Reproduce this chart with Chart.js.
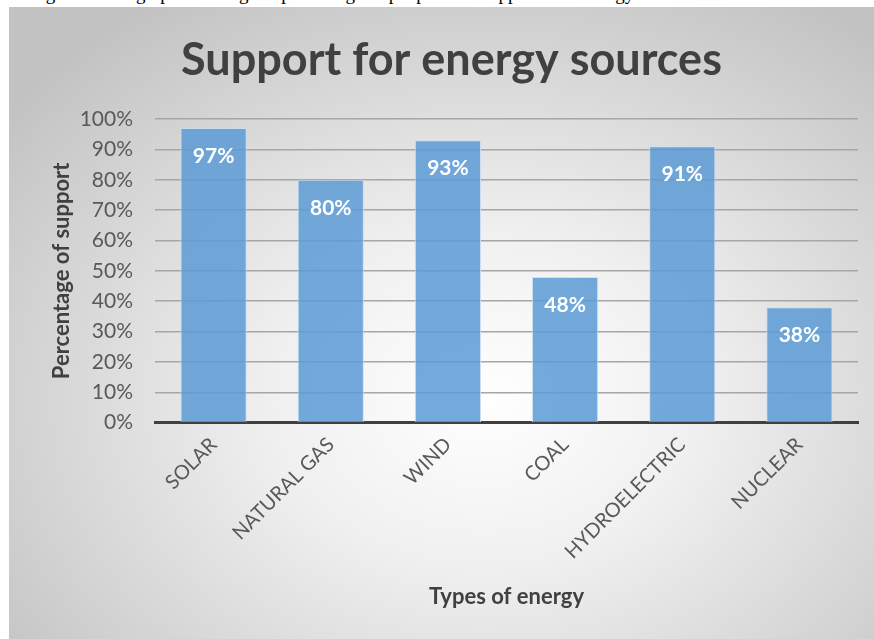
<!DOCTYPE html>
<html lang="en">
<head>
    <meta charset="UTF-8">
    <title>Support for energy sources</title>
    <script src="https://cdn.jsdelivr.net/npm/chart.js"></script>
    <style>
        body {
            margin: 0;
            background: #fff;
            width: 874px;
            height: 639px;
            overflow: hidden;
            position: relative;
        }
        #caption {
            position: absolute;
            left: 0;
            top: 0;
            width: 874px;
            height: 7px;
            overflow: hidden;
        }
        #caption span {
            position: absolute;
            left: 30px;
            top: -17px;
            font-family: "Liberation Serif", serif;
            font-size: 19px;
            white-space: nowrap;
            color: #000;
        }
        #chartBox {
            position: absolute;
            left: 9px;
            top: 7px;
            width: 865px;
            height: 632px;
            background: radial-gradient(ellipse 70% 75% at 55% 62%, #ffffff 0%, #f0f0f0 35%, #c2c2c2 100%);
        }
    </style>
</head>
<body>
    <div id="caption"><span>Figure 3: Bar graph showing the percentage of people who support each energy source</span></div>
    <div id="chartBox">
        <canvas id="energyChart"></canvas>
    </div>
    <script>
        const categories = ['SOLAR', 'NATURAL GAS', 'WIND', 'COAL', 'HYDROELECTRIC', 'NUCLEAR'];
        const support = [97, 80, 93, 48, 91, 38];
        const yTicks = [0, 10, 20, 30, 40, 50, 60, 70, 80, 90, 100];

        const FONT = 'Lato, "Open Sans", sans-serif';

        // white % labels inside top of each bar
        const barLabels = {
            id: 'barLabels',
            afterDatasetsDraw(chart) {
                const ctx = chart.ctx;
                const meta = chart.getDatasetMeta(0);
                ctx.save();
                ctx.fillStyle = '#ffffff';
                ctx.font = 'bold 21px ' + FONT;
                ctx.textAlign = 'center';
                ctx.textBaseline = 'middle';
                meta.data.forEach((bar, i) => {
                    ctx.fillText(support[i] + '%', bar.x, bar.y + 28);
                });
                ctx.restore();
            }
        };

        const ctx = document.getElementById('energyChart').getContext('2d');
        const energyChart = new Chart(ctx, {
            type: 'bar',
            data: {
                labels: categories,
                datasets: [{
                    label: 'Support',
                    data: support,
                    backgroundColor: 'rgba(91, 155, 213, 0.85)',
                    borderColor: 'rgba(200, 222, 242, 0.9)',
                    borderWidth: 1,
                    categoryPercentage: 1,
                    barPercentage: 0.565
                }]
            },
            options: {
                responsive: true,
                maintainAspectRatio: false,
                animation: false,
                layout: {
                    padding: { left: 36, right: 16, top: 26, bottom: 29 }
                },
                plugins: {
                    legend: { display: false },
                    tooltip: { enabled: false },
                    title: {
                        display: true,
                        text: 'Support for energy sources',
                        color: '#404040',
                        font: { family: FONT, size: 45, weight: 'bold' },
                        padding: { top: 0, bottom: 32 }
                    }
                },
                scales: {
                    x: {
                        afterFit(axis) {
                            axis.paddingLeft = 0;
                        },
                        grid: { display: false },
                        border: { display: true, color: '#404040', width: 3 },
                        ticks: {
                            color: '#595959',
                            font: { family: FONT, size: 20 },
                            maxRotation: 45,
                            minRotation: 45,
                            padding: 2
                        },
                        title: {
                            display: true,
                            text: 'Types of energy',
                            color: '#404040',
                            font: { family: FONT, size: 22, weight: 'bold' },
                            padding: { top: 18, bottom: 0 }
                        }
                    },
                    y: {
                        min: 0,
                        max: 100,
                        afterBuildTicks(axis) {
                            axis.ticks = yTicks.map(v => ({ value: v }));
                        },
                        afterFit(axis) {
                            // fixed width: title + labels + gap
                            axis.width = 110;
                        },
                        grid: {
                            color: '#a6a6a6',
                            lineWidth: 1.5,
                            drawTicks: false
                        },
                        border: { display: false },
                        ticks: {
                            color: '#595959',
                            font: { family: FONT, size: 21 },
                            padding: 22,
                            autoSkip: false,
                            callback: v => v + '%'
                        },
                        title: {
                            display: true,
                            text: 'Percentage of support',
                            color: '#404040',
                            font: { family: FONT, size: 22, weight: 'bold' },
                            padding: { top: 4, bottom: 5 }
                        }
                    }
                }
            },
            plugins: [barLabels]
        });
    </script>
</body>
</html>
